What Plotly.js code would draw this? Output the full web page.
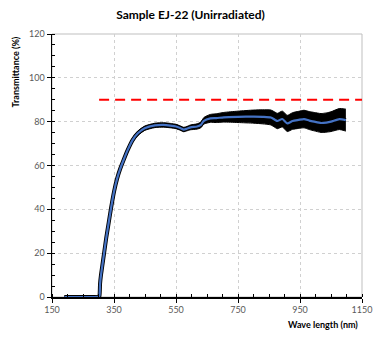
<!DOCTYPE html>
<html>
<head>
<meta charset="utf-8">
<script src="https://cdn.plot.ly/plotly-3.0.1.min.js"></script>
<style>
  html, body { margin: 0; padding: 0; background: #fff; }
  #chart { width: 381px; height: 342px; }
</style>
</head>
<body>
<div id="chart"></div>
<script>
/* Transmittance spectrum, sample EJ-22 (unirradiated) */

// wavelength (nm)
const wavelength = [190, 220, 250, 280, 300, 303, 305, 308, 312, 318, 325, 333, 341, 350, 360, 370, 381, 394, 410, 427,
  449, 482, 510, 532, 550, 565, 575, 585, 597, 618, 630, 640, 661, 680, 704, 750, 801, 830, 856, 870, 877,
  893, 909, 926, 945, 963, 980, 996, 1018, 1035, 1050, 1077, 1098];
// mean transmittance (%)
const transmittance = [0, 0, 0, 0, 0, 0.5, 6, 10, 14, 20, 27, 34, 41, 48, 54, 58.5, 62.5, 67, 71.6, 74.7,
  77, 78.3, 78.5, 78.2, 77.8, 77, 76.4, 76.8, 77.4, 77.8, 78.5, 80.4, 81.5, 81.6, 82, 82.2, 82.3, 82.2, 81.9, 80.8, 80.3,
  81.2, 79.2, 80.3, 80.8, 81.2, 80.5, 80, 79.4, 79.6, 80, 81.2, 80.7];
// half-width of the black scatter band (%)
const spread = [0.5, 0.5, 0.5, 0.5, 0.5, 0.6, 0.8, 1, 1, 1, 1, 1, 1, 1, 1, 1, 1, 1, 1, 1,
  1, 1, 1, 1, 1, 1, 1, 1, 1.1, 1.2, 1.3, 1.5, 1.8, 2, 2.2, 2.6, 3, 3.2, 3.4, 3.5, 3.5,
  3.6, 3.7, 3.8, 3.9, 4, 4.1, 4.2, 4.3, 4.4, 4.5, 4.8, 5];

// reference level line
const refLevelX = [302, 1150];
const refLevelY = [90, 90];

const xTicks = [150, 350, 550, 750, 950, 1150];
const yTicks = [0, 20, 40, 60, 80, 100, 120];

const upper = transmittance.map((v, i) => v + spread[i]);
const lower = transmittance.map((v, i) => Math.max(0, v - spread[i]));

const curve = { color: '#000', width: 1, shape: 'spline', smoothing: 0.6 };

const traces = [
  { x: wavelength, y: lower, mode: 'lines', line: curve, hoverinfo: 'skip' },
  { x: wavelength, y: upper, mode: 'lines', fill: 'tonexty', fillcolor: '#000', line: curve, hoverinfo: 'skip' },
  { x: wavelength, y: transmittance, mode: 'lines',
    line: { color: '#000', width: 4, shape: 'spline', smoothing: 0.6 }, hoverinfo: 'skip' },
  { x: wavelength, y: transmittance, mode: 'lines',
    line: { color: '#4472C4', width: 2.2, shape: 'spline', smoothing: 0.6 }, name: 'Transmittance' },
  { x: refLevelX, y: refLevelY, mode: 'lines', line: { color: '#FF0000', width: 2, dash: '10px,6px' } }
];

const tickFont = { family: 'Lato, "Open Sans", sans-serif', size: 9, color: '#595959' };
const boldFont = { family: 'Lato, "Open Sans", sans-serif', size: 9, color: '#000', weight: 'bold' };

const layout = {
  width: 381, height: 342,
  margin: { l: 52, r: 19, t: 34, b: 45 },
  paper_bgcolor: '#fff', plot_bgcolor: '#fff',
  title: {
    text: '<b>Sample EJ-22 (Unirradiated)</b>',
    font: { family: 'Lato, "Open Sans", sans-serif', size: 12, color: '#000' },
    x: 0.5, xanchor: 'center', y: 0.958, yanchor: 'middle'
  },
  xaxis: {
    range: [150, 1150], tickvals: xTicks, ticktext: xTicks.map(String),
    showgrid: true, gridcolor: '#d0d0d0', griddash: 'dot', gridwidth: 1,
    zeroline: false, showline: true, linecolor: '#000', linewidth: 1.5,
    ticks: 'outside', ticklen: 4, tickcolor: '#000', tickwidth: 1,
    minor: { dtick: 50, tick0: 150, ticks: 'inside', ticklen: 3, tickcolor: '#000', showgrid: false },
    tickfont: tickFont, fixedrange: true
  },
  yaxis: {
    range: [0, 120], tickvals: yTicks, ticktext: yTicks.map(String),
    showgrid: true, gridcolor: '#d0d0d0', griddash: 'dot', gridwidth: 1,
    zeroline: false, showline: true, linecolor: '#000', linewidth: 1.5,
    ticks: 'outside', ticklen: 4, tickcolor: '#000', tickwidth: 1,
    minor: { dtick: 5, tick0: 0, ticks: 'inside', ticklen: 3, tickcolor: '#000', showgrid: false },
    tickfont: tickFont, fixedrange: true
  },
  shapes: [
    { type: 'rect', xref: 'paper', yref: 'paper', x0: 0, x1: 1, y0: 0, y1: 1,
      line: { color: '#bfbfbf', width: 1 }, layer: 'below' }
  ],
  annotations: [
    { text: '<b>Transmittance (%)</b>', textangle: -90, xref: 'paper', yref: 'y',
      x: -0.119, y: 102.5, xanchor: 'center', yanchor: 'middle', showarrow: false, font: boldFont },
    { text: '<b>Wave length (nm)</b>', xref: 'paper', yref: 'paper',
      x: 1, y: -0.106, xanchor: 'right', yanchor: 'middle', xshift: -2, showarrow: false, font: boldFont }
  ],
  showlegend: false
};

Plotly.newPlot('chart', traces, layout, { staticPlot: true, displayModeBar: false });
</script>
</body>
</html>
